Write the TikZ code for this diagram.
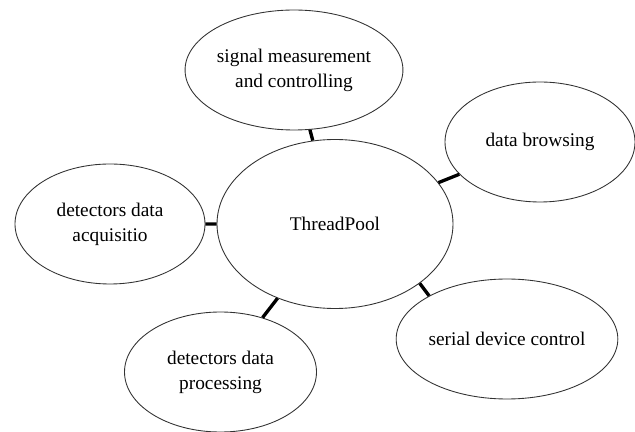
\documentclass[tikz,border=0pt]{standalone}
\usepackage{fontspec}
\setmainfont{Liberation Serif}
\usetikzlibrary{shapes.geometric}
\begin{document}
\begin{tikzpicture}[line join=round,line cap=round,font=\fontsize{11}{14.2}\selectfont,scale=1,
	vong/.style={ellipse,draw=black!80,line width=0.5pt,inner sep=0pt,align=center,minimum width=3.84cm,minimum height=2.4cm},
	noi/.style={line width=1.9pt,line cap=butt}]
			\def\rx{4.72} % truc lon elip giua
			\def\ry{3.38} % truc nho elip giua
			\useasboundingbox (0,0) rectangle (12.7,-8.64);
			\path 
			(6.70,-4.48) coordinate (O)
			(5.88,-1.40) coordinate (A)
			(10.80,-2.84) coordinate (B)
			(2.20,-4.48) coordinate (C)
			(4.41,-7.44) coordinate (D)
			(10.14,-6.78) coordinate (E);
			% elip giua
			\node[vong,minimum width=\rx cm,minimum height=\ry cm] (pool) at (O) {ThreadPool};
			% cac elip xung quanh
			\node[vong,minimum width=3.88cm] (signal) at (A) {signal measurement\\and controlling};
			\node[vong,minimum width=3.8cm] (browse) at (B) {data browsing};
			\node[vong,minimum width=3.8cm] (acquire) at (C) {detectors data\\acquisitio};
			\node[vong] (process) at (D) {detectors data\\processing};
			\node[vong] (serial) at (E) {serial device control};
			% ve cac doan noi
			\draw[noi] (pool)--(signal) (pool)--(browse) (pool)--(acquire) (pool)--(process);
			\draw[noi] (pool.-35)--(serial.151);
		\end{tikzpicture}
\end{document}
